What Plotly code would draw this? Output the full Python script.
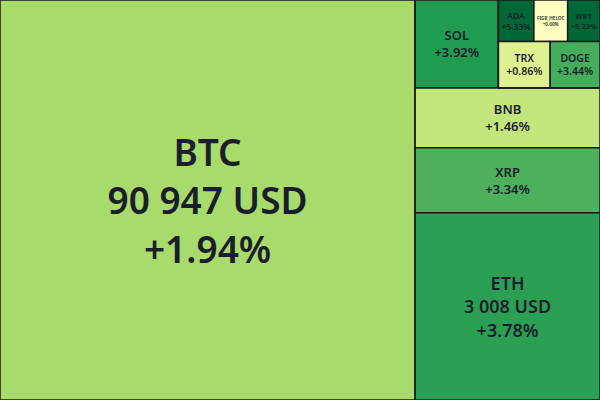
import plotly.graph_objects as go

# leaves
symbols = ["BTC", "ETH", "XRP", "BNB", "SOL", "TRX", "DOGE", "ADA", "FIGR_HELOC", "WBT"]
values = [166000, 34595, 12025, 11100, 7300, 2390, 2300, 1470, 1400, 1340]
prices = ["90 947 USD", "3 008 USD", "", "", "", "", "", "", "", ""]
changes = [1.94, 3.78, 3.34, 1.46, 3.92, 0.86, 3.44, 5.33, 0.00, 5.23]
font_sizes = [37, 18, 13, 13, 13, 10.5, 10.5, 10, 10, 10]

# grouping used for layout (slice-dice alternates direction per depth)
leaf_parent = {"BTC": "", "ETH": "right", "XRP": "right", "BNB": "right", "SOL": "top",
               "TRX": "rowB", "DOGE": "rowB", "ADA": "rowA", "FIGR_HELOC": "rowA", "WBT": "rowA"}
groups = [("right", ""), ("top", "right"), ("small", "top"), ("rowA", "small"), ("rowB", "small")]

order_ids = ["BTC", "right", "top", "SOL", "small", "rowA", "ADA", "FIGR_HELOC", "WBT",
             "rowB", "TRX", "DOGE", "BNB", "XRP", "ETH"]
gp = dict(groups)
ids, parents, vals, texts, colors, sizes = [], [], [], [], [], []
for i in order_ids:
    ids.append(i)
    if i in symbols:
        k = symbols.index(i)
        parents.append(leaf_parent[i])
        vals.append(values[k])
        parts = [i] + ([prices[k]] if prices[k] else []) + [f"+{changes[k]:.2f}%"]
        texts.append("<br>".join(parts))
        colors.append(changes[k])
        sizes.append(font_sizes[k])
    else:
        parents.append(gp[i])
        vals.append(0)
        texts.append("")
        colors.append(0)
        sizes.append(1)

fig = go.Figure(go.Treemap(
    ids=ids, labels=ids, parents=parents, values=vals, branchvalues="remainder",
    text=texts, textinfo="text", textposition="middle center",
    marker=dict(colors=colors, colorscale="RdYlGn", cmin=-5, cmax=5,
                line=dict(color="#1a1a1a", width=1.5), pad=dict(t=0, l=0, r=0, b=0)),
    tiling=dict(packing="slice-dice", pad=0),
    pathbar=dict(visible=False),
    textfont=dict(family="Noto Sans", color="#1a1e2a", size=sizes, weight=600),
    hoverinfo="skip",
    sort=False,
))
fig.update_layout(width=600, height=400, margin=dict(l=0, r=0, t=0, b=0),
                  paper_bgcolor="#1a1a1a", hovermode=False)
fig.write_html("out.html", config={"displayModeBar": False, "staticPlot": True},
               post_script="document.body.style.margin='0';document.body.style.overflow='hidden';")
